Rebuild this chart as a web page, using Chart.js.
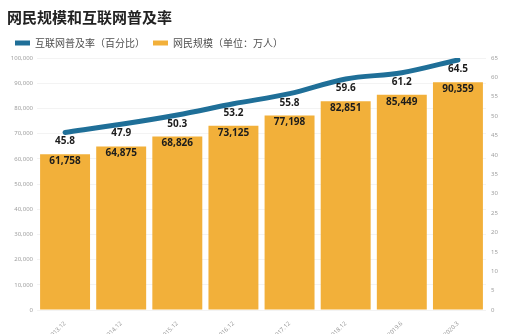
<!DOCTYPE html>
<html>
<head>
<meta charset="utf-8">
<script src="https://cdn.jsdelivr.net/npm/chart.js@4/dist/chart.umd.min.js"></script>
<style>
  html, body { margin: 0; padding: 0; background: #fff; }
  #wrap { width: 520px; height: 334px; }
</style>
</head>
<body>
<div id="wrap"><canvas id="c" width="520" height="334"></canvas></div>
<script>
// Internet users in China and the penetration rate
const periods = ['2013.12', '2014.12', '2015.12', '2016.12', '2017.12', '2018.12', '2019.6', '2020.3'];
const users = [61758, 64875, 68826, 73125, 77198, 82851, 85449, 90359];      // 万人
const penetration = [45.8, 47.9, 50.3, 53.2, 55.8, 59.6, 61.2, 64.5];         // %

const BLUE = '#1f6f98';
const ORANGE = '#f2b03a';
const CJK = '"Noto Sans CJK SC", "Noto Sans", sans-serif';

// Value labels: bar values just inside the bar top, rate values under the line
const valueLabels = {
  id: 'valueLabels',
  afterDatasetsDraw(chart) {
    const ctx = chart.ctx;
    ctx.save();
    ctx.font = 'bold 10px "Noto Sans", "DejaVu Sans", sans-serif';
    ctx.fillStyle = '#1c1c1c';
    ctx.textAlign = 'center';
    ctx.textBaseline = 'middle';
    chart.data.datasets.forEach((ds, i) => {
      const meta = chart.getDatasetMeta(i);
      meta.data.forEach((el, j) => {
        const v = ds.data[j];
        if (ds.type === 'bar') {
          ctx.fillText(v.toLocaleString('en-US'), el.x, el.y + 7);
        } else {
          ctx.fillText(v.toFixed(1), el.x, el.y + 9);
        }
      });
    });
    ctx.restore();
  }
};

new Chart(document.getElementById('c'), {
  data: {
    labels: periods,
    datasets: [
      {
        type: 'line',
        label: '互联网普及率（百分比）',
        data: penetration,
        yAxisID: 'yRate',
        borderColor: BLUE,
        backgroundColor: BLUE,
        borderWidth: 5,
        pointRadius: 0,
        tension: 0.4,
        cubicInterpolationMode: 'monotone',
        borderCapStyle: 'round',
        order: 0
      },
      {
        type: 'bar',
        label: '网民规模（单位：万人）',
        data: users,
        yAxisID: 'yUsers',
        backgroundColor: ORANGE,
        borderWidth: 0,
        barPercentage: 0.89,
        categoryPercentage: 1,
        order: 1
      }
    ]
  },
  options: {
    responsive: false,
    animation: false,
    devicePixelRatio: 1,
    layout: { padding: { left: 7, right: 0, top: 0, bottom: 0 } },
    plugins: {
      title: {
        display: true,
        text: '网民规模和互联网普及率',
        align: 'start',
        color: '#222',
        font: { family: CJK, size: 15, weight: 'bold' },
        padding: { top: 8, bottom: 4 }
      },
      legend: {
        display: true,
        align: 'start',
        labels: {
          boxWidth: 15,
          boxHeight: 5,
          padding: 8,
          color: '#505050',
          font: { family: CJK, size: 10 },
          generateLabels(chart) {
            const items = Chart.defaults.plugins.legend.labels.generateLabels(chart);
            items.forEach(it => { it.lineWidth = 0; it.strokeStyle = 'rgba(0,0,0,0)'; });
            return items;
          }
        }
      },
      tooltip: { enabled: false }
    },
    scales: {
      x: {
        grid: { display: false },
        border: { display: false },
        ticks: {
          color: '#9a9a9a',
          font: { family: '"Noto Sans", sans-serif', size: 6 },
          maxRotation: 45,
          minRotation: 45,
          padding: 2
        },
        afterFit(s) { s.height = 24; }
      },
      yUsers: {
        position: 'left',
        min: 0,
        max: 100000,
        ticks: {
          stepSize: 10000,
          color: '#a0a0a0',
          font: { family: '"Noto Sans", sans-serif', size: 6 },
          padding: 4,
          callback: v => v.toLocaleString('en-US')
        },
        grid: { color: '#f3f3f3', drawTicks: false },
        border: { display: false },
        afterFit(s) { s.width = 30; }
      },
      yRate: {
        position: 'right',
        min: 0,
        max: 65,
        ticks: {
          stepSize: 5,
          color: '#a0a0a0',
          font: { family: '"Noto Sans", sans-serif', size: 6 },
          padding: 5
        },
        grid: { display: false, drawTicks: false },
        border: { display: false },
        afterFit(s) { s.width = 34; }
      }
    }
  },
  plugins: [valueLabels]
});
</script>
</body>
</html>
